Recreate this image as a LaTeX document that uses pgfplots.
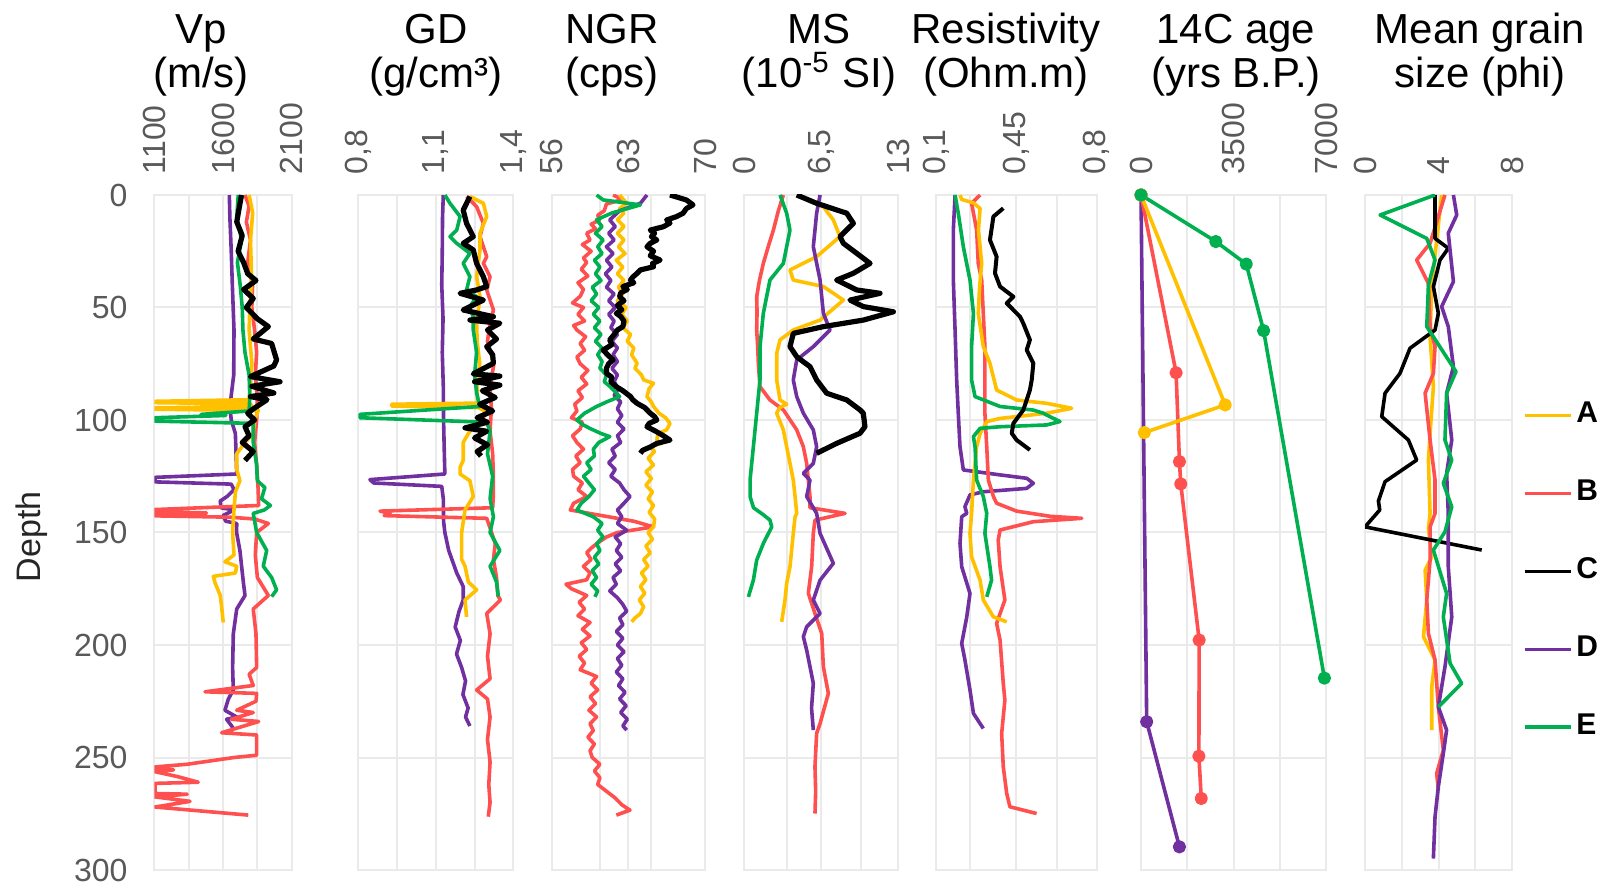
\documentclass[border=0pt]{standalone}
\usepackage{fontspec}
\setmainfont{Liberation Sans}
\usepackage{pgfplots}
\pgfplotsset{compat=1.18}
\definecolor{cA}{HTML}{FFC000}
\definecolor{cB}{HTML}{FF5050}
\definecolor{cC}{HTML}{000000}
\definecolor{cD}{HTML}{7030A0}
\definecolor{cE}{HTML}{00B050}
\definecolor{gridc}{HTML}{EAEAEA}
\definecolor{tickc}{HTML}{595959}
\newcommand\tickfont{\fontsize{8}{9}\selectfont}
\newcommand\titlefont{\fontsize{10.5}{12}\selectfont}
\pgfplotsset{
  panel/.style={
    scale only axis, height=168.75pt, anchor=north west,
    y dir=reverse, ymin=0, ymax=300, ytick={0,50,100,150,200,250,300},
    yticklabels={},
    xticklabel pos=upper,
    axis line style={draw=gridc, line width=0.5pt},
    major tick length=0pt, minor tick length=0pt,
    ymajorgrids, xmajorgrids, xminorgrids,
    major grid style={draw=gridc, line width=0.5pt},
    minor grid style={draw=gridc, line width=0.5pt},
    xticklabel style={rotate=90, anchor=west, font=\tickfont, text=tickc, inner xsep=5pt},
  },
  sA/.style={draw=cA, line width=0.9pt, line join=round},
  sB/.style={draw=cB, line width=0.9pt, line join=round},
  sC/.style={draw=cC, line width=1.3pt, line join=round},
  sD/.style={draw=cD, line width=0.9pt, line join=round},
  sE/.style={draw=cE, line width=0.9pt, line join=round},
}
\begin{document}
\begin{tikzpicture}
\path[use as bounding box] (0pt,0pt) rectangle (400.75pt,221.25pt);

% ---------------- Vp ----------------
\begin{axis}[panel, at={(38.575pt,172.5pt)}, width=34.35pt,
  xmin=1100, xmax=2100, xtick={1100,1600,2100}, xticklabels={1100,1600,2100},
  minor xtick={1350,1850},
  yticklabels={0,50,100,150,200,250,300},
  yticklabel style={font=\tickfont, text=tickc, inner xsep=6.5pt}]
\addplot[sD] coordinates {(1646,0)(1650,10)(1660,25)(1668,40)(1680,60)(1678,80)(1650,94)(1660,100)(1690,106)(1695,115)(1700,124)(1105,125.5)(1105,127.5)(1660,128.5)(1680,131)(1630,134)(1580,136)(1585,139)(1680,140)(1600,142.5)(1620,145)(1700,146)(1699,150)(1723,158)(1748,172)(1760,178)(1700,184)(1675,195)(1670,210)(1675,220)(1639,224)(1614,229)(1700,232)(1626,233)(1675,237)};
\addplot[sB] coordinates {(1760,0)(1790,5)(1770,12)(1800,20)(1780,30)(1815,40)(1810,50)(1830,60)(1845,70)(1835,80)(1850,90)(1845,100)(1830,110)(1845,120)(1855,130)(1860,138)(1105,139.8)(1105,140.8)(1480,141.3)(1105,142)(1105,142.6)(1650,143.2)(1830,144)(1930,146)(1845,150)(1835,160)(1850,170)(1930,178)(1820,184)(1840,195)(1845,210)(1790,213)(1820,218)(1469,220.8)(1845,221.5)(1840,225)(1700,229)(1820,230)(1660,233)(1860,234)(1590,239)(1845,240)(1845,249)(1680,250)(1340,253)(1105,254.2)(1105,255)(1240,255.5)(1105,256.3)(1270,258.5)(1420,261)(1105,261.5)(1105,266)(1340,266.3)(1105,267.5)(1360,269.5)(1105,272)(1784,275.6)};
\addplot[sA] coordinates {(1790,0)(1816,8)(1800,20)(1808,37)(1795,50)(1790,60)(1810,75)(1800,85)(1790,91)(1105,91.7)(1105,92.3)(1800,92.8)(1810,94)(1105,94.6)(1105,95.2)(1857,95.8)(1830,100)(1820,106)(1760,110)(1700,115)(1700,122)(1723,127)(1690,132)(1680,140)(1670,150)(1680,160)(1614,163)(1700,165)(1690,168)(1530,169.5)(1540,172)(1580,178)(1590,183)(1602,190)};
\addplot[sE] coordinates {(1711,0)(1700,10)(1735,20)(1705,30)(1725,40)(1740,50)(1745,60)(1760,70)(1790,80)(1795,90)(1790,96)(1440,97.5)(1620,98)(1105,99)(1105,100.5)(1820,101.5)(1820,110)(1845,120)(1850,127)(1905,130)(1880,135)(1945,138)(1900,140)(1820,141.5)(1845,150)(1918,158)(1893,165)(1954,170)(1990,175.5)(1954,178.5)};
\addplot[sC] coordinates {(1735,0)(1720,5)(1700,12)(1740,18)(1710,25)(1750,30)(1780,35)(1840,38)(1750,42)(1820,46)(1770,50)(1850,55)(1930,58.5)(1820,64)(1954,66)(1990,73.3)(1970,76)(1800,80.7)(2015,83)(1810,85)(1970,88)(1800,89.6)(1920,91)(1810,95.5)(1780,97)(1830,100)(1760,103)(1790,107)(1740,110)(1820,114)(1760,118)};
\end{axis}

% ---------------- GD ----------------
\begin{axis}[panel, at={(89.575pt,172.5pt)}, width=38.75pt,
  xmin=0.8, xmax=1.4, xtick={0.8,1.1,1.4}, xticklabels={{0,8},{1,1},{1,4}},
  minor xtick={0.95,1.25}]
\addplot[sD] coordinates {(1.129,0)(1.126,10)(1.125,25)(1.123,40)(1.128,55)(1.125,70)(1.129,85)(1.13,100)(1.133,115)(1.135,124)(0.845,126.5)(0.86,128)(1.123,129.5)(1.129,135)(1.13,145)(1.135,150)(1.15,158)(1.181,168)(1.206,174)(1.206,180)(1.19,185)(1.175,192)(1.195,198)(1.18,204)(1.2,210)(1.215,216)(1.205,222)(1.225,228)(1.215,232)(1.232,236)};
\addplot[sB] coordinates {(1.219,0.7)(1.258,5.2)(1.284,12.6)(1.271,18.5)(1.297,27.4)(1.284,30.4)(1.31,36.3)(1.297,42.2)(1.323,51.1)(1.31,57)(1.30,65)(1.325,75)(1.31,85)(1.315,95)(1.31,105)(1.32,115)(1.323,125)(1.323,133)(1.32,139)(0.884,140.5)(0.923,141.5)(0.90,142.5)(1.297,143.7)(1.31,148)(1.33,155)(1.323,162)(1.335,170)(1.34,178)(1.35,180)(1.297,186)(1.31,195)(1.30,205)(1.31,215)(1.258,220)(1.30,224)(1.31,232)(1.30,242)(1.31,252)(1.305,262)(1.31,270)(1.303,276.3)};
\addplot[sA] coordinates {(1.232,0.7)(1.284,3.7)(1.297,9.6)(1.271,17)(1.271,24.4)(1.258,36.3)(1.271,45.2)(1.258,57)(1.26,65)(1.27,75)(1.26,85)(1.262,92.5)(0.929,93)(0.929,93.8)(1.265,94.5)(1.29,96)(1.28,102)(1.245,103)(1.226,106)(1.206,110)(1.206,118)(1.194,121)(1.194,124)(1.232,127)(1.245,134)(1.213,140)(1.2,150)(1.2,162)(1.213,165)(1.226,172)(1.258,175.5)(1.213,180)(1.219,187.5)};
\addplot[sE] coordinates {(1.135,0)(1.155,3.7)(1.194,9.6)(1.181,15.6)(1.155,18.5)(1.181,21.5)(1.232,25.9)(1.206,30.4)(1.232,36.3)(1.219,42.2)(1.258,45.2)(1.23,50)(1.245,54.1)(1.245,60)(1.258,70)(1.25,80)(1.258,88)(1.27,94)(0.806,97.5)(0.806,99)(1.297,101)(1.31,105)(1.3,115)(1.32,125)(1.31,135)(1.323,143)(1.31,150)(1.348,158)(1.31,165)(1.335,172)(1.342,178.5)};
\addplot[sC] coordinates {(1.232,0.7)(1.206,6.7)(1.219,12.6)(1.245,18.5)(1.206,21.5)(1.245,24.4)(1.258,30.4)(1.284,36.3)(1.297,40.7)(1.258,42.2)(1.194,43.7)(1.284,46.7)(1.206,51.1)(1.323,54.1)(1.232,55.6)(1.348,57)(1.30,60)(1.335,64)(1.297,67.4)(1.32,71)(1.323,74.8)(1.245,79.5)(1.348,80.5)(1.25,83)(1.348,84.5)(1.28,87)(1.33,90)(1.27,93)(1.32,96)(1.26,99)(1.3,101)(1.213,103.5)(1.297,105)(1.25,108)(1.3,111)(1.26,114)(1.275,116)};
\end{axis}

% ---------------- NGR ----------------
\begin{axis}[panel, at={(137.925pt,172.5pt)}, width=38.325pt,
  xmin=56, xmax=70, xtick={56,63,70}, xticklabels={56,63,70},
  minor xtick={60.4,65.1}]
\addplot[sB] coordinates {(61.6,0)(62.5,2)(61.0,4)(60.8,7)(60.2,9)(60.4,11)(59.6,13)(60.0,15)(59.2,17)(59.5,20)(58.8,22)(59.6,25)(58.9,28)(59.2,30)(58.7,33)(59.3,36)(58.4,39)(58.9,42)(58.6,45)(57.9,48)(58.9,50)(58.4,53)(59.0,56)(58.0,58)(58.3,60)(59.1,63)(58.6,66)(59.0,69)(58.3,72)(58.6,75)(59.3,78)(58.7,81)(59.2,84)(58.4,87)(58.8,90)(58.1,93)(58.3,96)(57.8,99)(58.8,101)(58.6,104)(57.9,107)(58.3,110)(58.9,113)(58.2,116)(58.6,119)(57.9,122)(58.0,125)(58.8,128)(58.4,131)(59.2,134)(58.0,137)(57.7,140)(60.0,142)(63.5,145)(65.3,147.5)(62.0,150)(61.0,152)(60.1,155)(59.6,157)(59.2,159)(59.6,162)(58.9,165)(59.5,168)(59.2,171)(57.3,173)(57.8,175)(59.2,178)(58.5,181)(59.0,184)(58.4,187)(59.5,190)(58.8,193)(59.5,196)(58.7,199)(59.2,202)(58.5,205)(59.0,208)(58.6,211)(60.1,214)(59.6,217)(60.2,220)(59.5,223)(60.0,226)(59.4,229)(60.1,232)(59.5,235)(59.8,238)(59.3,241)(59.9,244)(59.5,247)(59.7,250)(60.4,253)(59.9,256)(60.4,259)(60.2,262)(61.0,265)(61.8,268)(62.4,271)(63.15,273.4)(61.9,275.6)};
\addplot[sA] coordinates {(62.2,0)(62.85,3.7)(62.2,6)(62.6,8.1)(62.0,11)(62.6,14)(62.0,17)(62.6,20)(62.1,23)(62.7,26)(61.9,29)(62.5,32)(62.0,35)(62.6,38)(62.1,41)(62.5,44)(62.0,47)(62.8,50)(62.4,53)(62.9,56)(62.5,59)(63.2,62)(62.9,65)(63.5,68)(63.3,71)(63.8,74.8)(63.6,77)(64.2,80)(64.4,82.2)(65.3,83.7)(64.9,86)(64.7,89.6)(65.1,92)(65.3,94)(65.8,97)(66.4,99)(66.8,101.5)(66.5,104.4)(65.7,106)(65.6,108.9)(66.0,110.4)(65.0,111.9)(65.4,114)(64.8,117)(65.3,120)(64.6,123)(65.1,126)(64.6,129)(65.2,132)(64.8,135)(65.3,138)(64.9,141)(65.4,144)(65.3,147.5)(64.8,150)(65.2,153)(64.6,156)(65.0,159)(64.4,162)(64.8,165)(64.2,168)(64.6,171)(64.1,174)(64.5,177)(64.0,180)(64.4,183)(64.1,186)(63.6,188)(63.3,189.7)};
\addplot[sD] coordinates {(64.7,0)(64.1,3.7)(62.2,7)(61.3,11.1)(61.8,14)(61.2,17)(61.7,20)(61.0,23)(61.6,26)(61.0,29)(61.5,32)(60.9,35)(61.4,38)(61.0,41)(61.7,44)(61.2,47)(61.8,50)(61.2,53)(61.7,56)(61.4,59)(62.0,62)(61.5,65)(62.0,68)(61.6,71)(62.0,74)(61.5,77)(62.0,80)(61.7,83)(62.1,86)(61.7,89)(62.3,92)(62.0,95)(62.4,98)(62.0,101)(62.6,104)(62.0,107)(62.3,110)(61.5,113)(61.8,116)(61.2,119)(61.8,122)(61.4,125)(62.2,128)(62.6,131)(63.15,134)(62.6,137)(62.0,140)(62.4,143)(62.0,146)(62.85,149)(61.8,152)(62.3,155)(61.9,158)(62.4,161)(61.8,164)(62.3,167)(61.6,170)(61.9,173)(61.3,176)(62.0,179)(62.5,182)(62.85,185)(62.2,188)(62.5,191)(61.9,194)(62.5,197)(62.0,200)(62.6,203)(62.0,206)(62.4,209)(61.9,212)(62.5,215)(62.1,218)(62.7,221)(62.2,224)(62.8,227)(62.3,230)(62.9,233)(62.5,236)(62.85,237.8)};
\addplot[sE] coordinates {(60.1,0)(60.7,2.2)(64.1,4.4)(61.5,8)(60.1,11)(60.6,14)(60.0,17)(60.7,20)(60.2,23)(60.6,26)(59.9,29)(60.4,32)(60.0,35)(60.5,38)(59.7,41)(60.1,44)(59.6,47)(60.3,50)(59.8,53)(60.4,56)(59.9,59)(60.5,62)(60.0,65)(60.6,68)(60.2,71)(60.6,74)(60.4,77)(61.0,80)(60.8,83)(61.3,85)(61.9,88)(62.2,89.6)(61.0,92)(60.1,94)(59.0,97)(58.3,100)(58.8,102)(59.6,104)(60.5,106)(61.3,107.4)(60.3,110)(59.8,113)(59.9,116)(59.2,119)(59.6,122)(58.9,125)(59.4,128)(59.9,131)(59.4,134)(58.7,137)(58.3,140)(59.8,143)(60.6,146)(60.2,149)(60.7,152)(60.1,155)(60.4,158)(59.9,161)(60.3,164)(59.7,167)(60.1,170)(59.6,173)(60.2,176)(59.95,178.6)};
\addplot[sC] coordinates {(66.8,0)(68.3,2.2)(68.9,4.4)(68.3,6)(68.0,8.1)(67.4,9.6)(66.5,11.1)(66.8,12.5)(66.2,14.1)(65.0,15.6)(65.4,17)(65.1,18.5)(65.6,20)(65.0,21.5)(64.7,23)(65.3,25)(65.0,27)(65.9,28.9)(65.2,30.5)(65.3,31.9)(64.1,33.3)(63.8,34.8)(63.4,36.5)(63.2,37.8)(63.5,39)(62.5,40.7)(62.9,42)(62.3,43.5)(62.2,45.2)(62.6,47)(62.0,49)(62.4,51)(61.9,52.6)(62.3,54)(62.6,56)(62.5,58.5)(62.0,60)(61.7,62)(61.3,64.4)(61.5,66.5)(60.7,68.9)(61.1,71)(61.6,73.3)(61.2,75)(61.0,77)(61.0,79.3)(61.5,81)(61.4,83)(61.9,85.2)(62.5,87)(63.2,89.6)(63.4,91)(63.8,92.6)(64.5,94.5)(65.0,97)(65.4,98.5)(65.6,100)(64.9,101.5)(64.7,103)(65.5,105)(66.2,107)(66.8,108.9)(65.6,110.4)(65.0,112)(64.3,113.5)(64.1,114.8)};
\end{axis}

% ---------------- MS ----------------
\begin{axis}[panel, at={(186pt,172.5pt)}, width=38.5pt,
  xmin=0, xmax=13, xtick={0,6.5,13}, xticklabels={0,{6,5},13},
  minor xtick={3.6,9.9}]
\addplot[sB] coordinates {(3.32,0)(2.9,7)(2.48,15.6)(2.1,22)(1.63,30.4)(1.3,38)(1.07,45.2)(1.1,52)(1.07,60)(1.15,67)(1.21,74.8)(1.35,85.2)(2.19,91.1)(3.32,95.5)(4.45,104.4)(5.01,111.9)(5.29,119.3)(5.43,126.7)(5.57,134)(5.57,139)(8.53,141.5)(5.99,144.5)(5.85,150.4)(5.71,165.2)(5.43,177)(5.99,186)(6.56,194.9)(6.7,209.7)(7.12,221.5)(6.42,234.9)(6.13,239.3)(5.99,254.1)(6.05,265)(5.99,274.9)};
\addplot[sA] coordinates {(4.45,0)(6.7,5.2)(7.54,11.1)(8.1,18.5)(6.13,27.4)(3.88,33.3)(4.16,37.8)(6.7,40.7)(8.39,46.7)(6.42,55.6)(4.16,60)(3.04,64.4)(2.76,70.4)(2.76,82.2)(3.04,91.1)(3.6,93)(3.0,94.5)(2.76,97)(3.32,104.4)(3.6,111.9)(3.88,119.3)(4.16,126.7)(4.31,134)(4.45,141.5)(4.31,143)(4.16,150.4)(3.88,165.2)(3.6,172.6)(3.46,180)(3.18,189.7)};
\addplot[sD] coordinates {(6.42,0)(6.13,8.1)(5.85,23)(6.42,37.8)(6.7,52.6)(7.26,60)(5.85,67.4)(4.45,73.3)(4.16,82.2)(4.45,89.6)(5.01,97)(5.85,104.4)(6.13,111.9)(5.85,119.3)(5.01,123.7)(5.57,126.7)(5.29,134)(6.13,141.5)(6.42,150.4)(7.54,163.7)(6.42,171.2)(5.85,180)(6.42,186)(5.29,191.9)(5.01,196.3)(5.29,202.3)(5.85,217)(5.7,228)(5.85,237.8)};
\addplot[sE] coordinates {(3.04,0)(3.6,8.1)(3.88,15.6)(3.32,30.4)(2.19,37.8)(1.63,52.6)(1.35,67.4)(1.35,82.2)(1.07,97)(0.79,111.9)(0.51,126.7)(0.51,134)(0.8,139)(1.6,142)(2.19,144.5)(2.34,147.5)(1.63,154.9)(1.07,162.3)(0.79,171.2)(0.37,178.6)};
\addplot[sC] coordinates {(4.45,0)(6.13,3.7)(8.67,8.1)(9.23,12.6)(8.1,18.5)(8.39,21.5)(9.51,25.9)(10.64,30.4)(9.23,34.8)(7.82,37.8)(9.51,42.2)(11.48,43.7)(8.95,46.7)(10.07,49.6)(12.61,51.9)(10.07,55.6)(6.7,58.5)(4.16,61.5)(3.88,67.4)(4.45,71.9)(5.57,76.3)(6.13,82.2)(6.98,88.1)(8.67,91.1)(9.79,95.5)(10.07,97)(10.21,103)(9.79,105.9)(7.82,110.4)(6.13,114.8)};
\end{axis}

% ---------------- Resistivity ----------------
\begin{axis}[panel, at={(234pt,172.5pt)}, width=40.175pt,
  xmin=0.1, xmax=0.8, xtick={0.1,0.45,0.8}, xticklabels={{0,1},{0,45},{0,8}},
  minor xtick={0.25,0.625}]
\addplot[sD] coordinates {(0.183,0)(0.1755,15.6)(0.1755,37.8)(0.183,60)(0.19,82.2)(0.197,97)(0.2045,111.9)(0.219,122.2)(0.379,124.4)(0.495,125.9)(0.524,128.1)(0.495,130.4)(0.306,131.9)(0.248,133.3)(0.226,138.5)(0.234,141.5)(0.212,143)(0.2045,154.9)(0.212,165.2)(0.248,177.1)(0.234,187.5)(0.212,199.3)(0.226,206.7)(0.248,220)(0.263,230.4)(0.306,237.1)};
\addplot[sB] coordinates {(0.292,0)(0.255,3.7)(0.277,15.6)(0.284,30.4)(0.299,37.8)(0.306,52.6)(0.313,67.4)(0.313,82.2)(0.313,97)(0.321,111.9)(0.328,126.7)(0.35,134)(0.364,137)(0.451,140.5)(0.597,142.8)(0.735,143.7)(0.524,145.2)(0.379,148.9)(0.371,153.4)(0.379,165.2)(0.40,180)(0.364,190.4)(0.379,197.8)(0.393,217)(0.40,224.5)(0.386,239.3)(0.393,254.1)(0.408,266)(0.422,271.9)(0.538,274.9)};
\addplot[sA] coordinates {(0.2045,0)(0.212,2)(0.263,3.5)(0.292,6)(0.285,15.6)(0.299,30.4)(0.29,40.7)(0.284,52.6)(0.306,67.4)(0.335,74.8)(0.364,86.7)(0.451,91.1)(0.582,92.6)(0.691,94.8)(0.582,97)(0.379,99.3)(0.321,100.7)(0.292,106)(0.277,111.9)(0.27,119.3)(0.263,126.7)(0.255,141.5)(0.248,150.4)(0.255,160.8)(0.292,171.2)(0.306,180)(0.35,187.5)(0.408,189.7)};
\addplot[sE] coordinates {(0.183,0)(0.197,8.1)(0.219,23)(0.248,37.8)(0.263,52.6)(0.255,67.4)(0.255,82.2)(0.27,89.6)(0.379,94)(0.524,95.6)(0.568,97)(0.582,97.8)(0.64,100.7)(0.582,102.2)(0.379,103)(0.292,103.7)(0.263,107.4)(0.27,111.9)(0.277,126.7)(0.306,134)(0.321,141.5)(0.313,150.4)(0.335,165.2)(0.342,171.2)(0.321,178.6)};
\addplot[sC, line width=1pt] coordinates {(0.393,5.9)(0.35,9.6)(0.335,20)(0.364,27.4)(0.357,34.8)(0.379,40.7)(0.437,45.2)(0.408,48.1)(0.466,54.1)(0.48,57)(0.509,64.4)(0.495,68.9)(0.524,74.8)(0.517,82.2)(0.509,86.7)(0.495,91.1)(0.48,95.6)(0.437,101.5)(0.43,105.9)(0.451,108.9)(0.509,113.3)};
\end{axis}

% ---------------- 14C age ----------------
\begin{axis}[panel, at={(285.25pt,172.5pt)}, width=46.25pt, clip=false,
  xmin=0, xmax=7000, xtick={0,3500,7000}, xticklabels={0,3500,7000},
  minor xtick={1750,5250}]
\addplot[sD, mark=*, mark size=1.2pt, mark options={fill=cD, draw=cD}] coordinates {(0,0)(215,234.1)(1453,289.7)};
\addplot[sB, mark=*, mark size=1.2pt, mark options={fill=cB, draw=cB}] coordinates {(0,0)(1327,79)(1454,118.5)(1504,128.4)(2200,197.8)(2190,249.4)(2280,268.2)};
\addplot[sA, mark=*, mark size=1.2pt, mark options={fill=cA, draw=cA}] coordinates {(0,0)(3185,93.3)(126,105.6)};
\addplot[sE, mark=*, mark size=1.2pt, mark options={fill=cE, draw=cE}] coordinates {(0,0)(2831,20.7)(3982,30.7)(4639,60.3)(6939,214.7)};
\end{axis}

% ---------------- Mean grain size ----------------
\begin{axis}[panel, at={(341.25pt,172.5pt)}, width=36.75pt,
  xmin=0, xmax=8, xtick={0,4,8}, xticklabels={0,4,8},
  minor xtick={2,6},
  legend style={at={(axis description cs:1.068,0.70)}, anchor=north west, draw=none, fill=none, inner sep=0pt, row sep=10.8pt, font=\fontsize{7.5}{8}\selectfont\bfseries, nodes={inner sep=1pt, text=black}},
  legend cell align=left,
  legend image code/.code={\draw[#1, line width=0.9pt] (0pt,0pt) -- (11.5pt,0pt);}]
\addplot[sA] coordinates {(4.17,0)(3.9,20)(3.63,40.7)(3.54,63)(3.72,85.2)(3.54,106)(3.45,117.8)(3.54,141.5)(3.45,148.2)(3.63,160.8)(3.27,166.7)(3.36,180)(3.18,196.3)(3.81,206.7)(3.63,218.6)(3.63,237.8)};
\addlegendentry{A}
\addplot[sB] coordinates {(4.35,0)(3.54,21.5)(2.81,28.9)(3.45,39.3)(3.54,58.5)(3.81,67.4)(3.72,79.3)(3.27,88.1)(3.54,108.9)(3.81,126.7)(3.81,141.5)(3.54,147.5)(3.54,162.3)(3.36,180)(3.45,194.9)(3.81,206.7)(3.99,227.5)(4.26,246.7)(3.9,257.1)(3.99,264.5)};
\addlegendentry{B}
\addplot[sC, line width=0.9pt] coordinates {(3.81,0)(3.81,19.3)(4.53,23.7)(4.08,28.9)(3.72,40.7)(3.99,52.6)(3.81,60)(2.45,68.1)(1.9,79.3)(1.09,88.1)(0.91,98.5)(2.36,108.9)(2.81,117.8)(1.09,127.4)(0.73,136)(0.8,140)(0,147.5)(6.35,157.8)};
\addlegendentry{C}
\addplot[sD] coordinates {(4.81,0)(4.99,8.9)(4.53,17)(4.81,38.5)(4.17,49.6)(4.53,58.5)(4.81,76.3)(4.44,88.1)(4.72,108.9)(4.44,123.7)(4.53,141.5)(4.53,165.2)(4.72,187.5)(4.35,209.7)(3.99,227.5)(4.44,237.8)(4.26,248.2)(3.99,263)(3.81,276.3)(3.72,294.9)};
\addlegendentry{D}
\addplot[sE] coordinates {(3.81,0)(0.82,8.9)(3.36,19.3)(3.81,28.9)(3.45,40)(3.36,58.5)(4.95,78.5)(4.44,88.1)(4.35,108.9)(4.72,117.8)(4.26,128.1)(4.72,138.6)(4.35,149.7)(3.72,157.8)(4.44,177.1)(4.26,187.5)(4.63,208.2)(5.26,217.1)(3.99,227.5)};
\addlegendentry{E}
\end{axis}

% ---------------- titles ----------------
\node[font=\titlefont, anchor=base] at (50.25pt,210.25pt) {Vp};
\node[font=\titlefont, anchor=base] at (50.25pt,199.25pt) {(m/s)};
\node[font=\titlefont, anchor=base] at (109pt,210.25pt) {GD};
\node[font=\titlefont, anchor=base] at (109pt,199.25pt) {(g/cm³)};
\node[font=\titlefont, anchor=base] at (153pt,210.25pt) {NGR};
\node[font=\titlefont, anchor=base] at (153pt,199.25pt) {(cps)};
\node[font=\titlefont, anchor=base] at (204.75pt,210.25pt) {MS};
\node[font=\titlefont, anchor=base] at (204.75pt,199.25pt) {(10\textsuperscript{-5} SI)};
\node[font=\titlefont, anchor=base] at (251.5pt,210.25pt) {Resistivity};
\node[font=\titlefont, anchor=base] at (251.5pt,199.25pt) {(Ohm.m)};
\node[font=\titlefont, anchor=base] at (309pt,210.25pt) {14C age};
\node[font=\titlefont, anchor=base] at (309pt,199.25pt) {(yrs B.P.)};
\node[font=\titlefont, anchor=base] at (370pt,210.25pt) {Mean grain};
\node[font=\titlefont, anchor=base] at (370pt,199.25pt) {size (phi)};
\node[font=\fontsize{8.5}{10}\selectfont, text=black!85, rotate=90] at (7.9pt,87pt) {Depth};
\end{tikzpicture}
\end{document}
